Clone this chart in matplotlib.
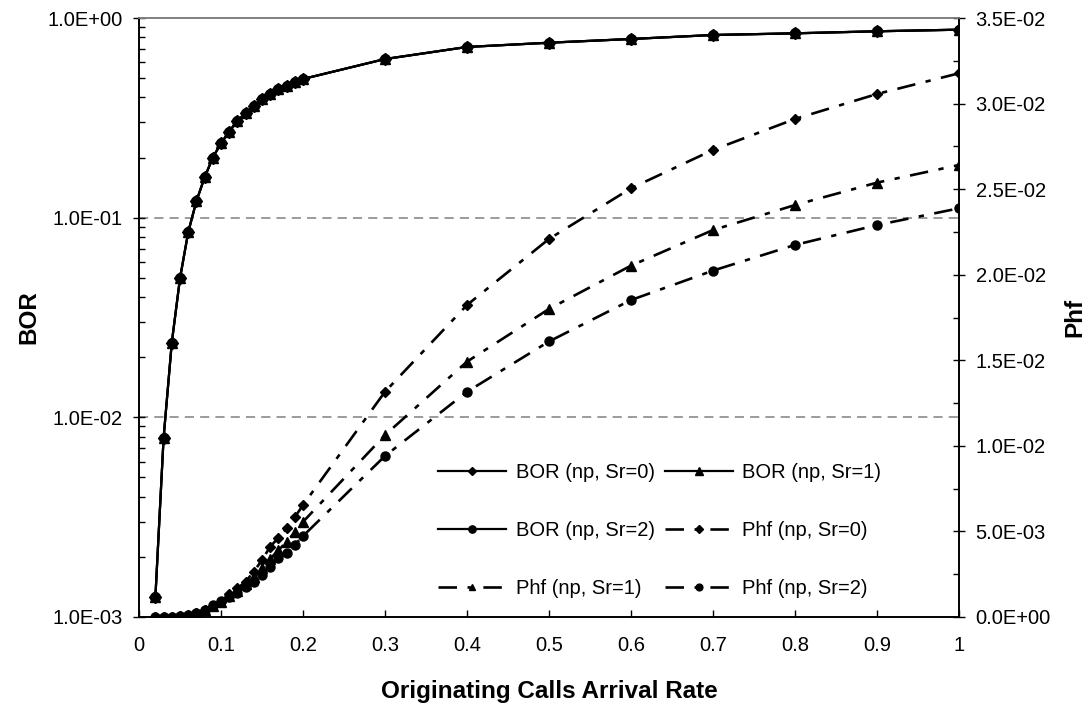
import matplotlib
matplotlib.use("Agg")
import matplotlib.pyplot as plt
from matplotlib.ticker import FixedLocator, FixedFormatter, NullFormatter

plt.rcParams['font.family'] = ['Liberation Sans', 'DejaVu Sans']

# ---------------- data ----------------
x = [0.02, 0.03, 0.04, 0.05, 0.06, 0.07, 0.08, 0.09, 0.10, 0.11, 0.12, 0.13,
     0.14, 0.15, 0.16, 0.17, 0.18, 0.19, 0.20, 0.3, 0.4, 0.5, 0.6, 0.7, 0.8,
     0.9, 1.0]

bor_sr0 = [0.00126, 0.0079, 0.0237, 0.0497, 0.0845, 0.121, 0.159, 0.200, 0.236,
           0.270, 0.306, 0.333, 0.362, 0.393, 0.416, 0.440, 0.458, 0.478, 0.495,
           0.623, 0.716, 0.752, 0.785, 0.822, 0.838, 0.858, 0.874]
bor_sr1 = [0.00126, 0.0079, 0.0237, 0.0497, 0.0845, 0.121, 0.159, 0.200, 0.236,
           0.270, 0.306, 0.333, 0.362, 0.393, 0.416, 0.440, 0.458, 0.478, 0.495,
           0.623, 0.716, 0.752, 0.785, 0.822, 0.838, 0.858, 0.874]
bor_sr2 = [0.00126, 0.0079, 0.0237, 0.0497, 0.0845, 0.121, 0.159, 0.200, 0.236,
           0.270, 0.306, 0.333, 0.362, 0.393, 0.416, 0.440, 0.458, 0.478, 0.495,
           0.623, 0.716, 0.752, 0.785, 0.822, 0.838, 0.858, 0.874]

phf_sr0 = [0.0, 0.0, 0.00002, 0.00005, 0.0001, 0.00022, 0.00041, 0.00064, 0.00089,
           0.00134, 0.00168, 0.00206, 0.00265, 0.00333, 0.00411, 0.00463, 0.00518,
           0.00583, 0.00654, 0.01316, 0.01823, 0.02209, 0.02505, 0.02729, 0.0291,
           0.03056, 0.03177]
phf_sr1 = [0.0, 0.0, 0.00002, 0.00005, 0.0001, 0.00022, 0.00041, 0.00066, 0.0009,
           0.00125, 0.00152, 0.0019, 0.00235, 0.00285, 0.0034, 0.0039, 0.0044,
           0.00495, 0.00556, 0.01063, 0.01492, 0.0180, 0.02053, 0.02261, 0.02407,
           0.02538, 0.02641]
phf_sr2 = [0.0, 0.0, 0.00002, 0.00005, 0.0001, 0.00022, 0.00041, 0.0007, 0.00093,
           0.00119, 0.00138, 0.00177, 0.00206, 0.00245, 0.00294, 0.00342, 0.00372,
           0.00421, 0.00473, 0.00941, 0.01316, 0.0161, 0.01852, 0.02024, 0.02174,
           0.0229, 0.02388]

x_ticks = [0, 0.1, 0.2, 0.3, 0.4, 0.5, 0.6, 0.7, 0.8, 0.9, 1.0]
x_labels = ['0', '0.1', '0.2', '0.3', '0.4', '0.5', '0.6', '0.7', '0.8', '0.9', '1']
left_ticks = [1e-3, 1e-2, 1e-1, 1.0]
left_labels = ['1.0E-03', '1.0E-02', '1.0E-01', '1.0E+00']
right_ticks = [0.0, 0.005, 0.01, 0.015, 0.02, 0.025, 0.03, 0.035]
right_labels = ['0.0E+00', '5.0E-03', '1.0E-02', '1.5E-02', '2.0E-02',
                '2.5E-02', '3.0E-02', '3.5E-02']

# ---------------- figure ----------------
fig = plt.figure(figsize=(10.9, 7.11), dpi=100)
ax = fig.add_axes([139/1090, 1-617/711, (959-139)/1090, (617-18)/711])
ax2 = ax.twinx()

solid_kw = dict(color='black', lw=1.6, markersize=7, markeredgecolor='black',
                markerfacecolor='black')
dd = (0, (7, 4, 2, 4))
dash_kw = dict(color='black', lw=1.9, linestyle=dd, markersize=6.5,
               markeredgecolor='black', markerfacecolor='black')

h1, = ax.plot(x, bor_sr0, marker='D', **{**solid_kw, 'markersize': 6}, label='BOR (np, Sr=0)')
h2, = ax.plot(x, bor_sr1, marker='^', **solid_kw, label='BOR (np, Sr=1)')
h3, = ax.plot(x, bor_sr2, marker='o', **solid_kw, label='BOR (np, Sr=2)')

h4, = ax2.plot(x, phf_sr0, marker='D', **{**dash_kw, 'markersize': 5.5}, label='Phf (np, Sr=0)')
h5, = ax2.plot(x, phf_sr1, marker='^', **dash_kw, label='Phf (np, Sr=1)')
h6, = ax2.plot(x, phf_sr2, marker='o', **dash_kw, label='Phf (np, Sr=2)')

ax.set_yscale('log')
ax.set_ylim(1e-3, 1.0)
ax.set_xlim(0, 1)
ax2.set_ylim(0, 0.035)

# gridlines
for g in [1e-1, 1e-2]:
    ax.axhline(g, color='#808080', lw=1.1, linestyle=(0, (6, 4)), zorder=0.5)

ax.xaxis.set_major_locator(FixedLocator(x_ticks))
ax.xaxis.set_major_formatter(FixedFormatter(x_labels))
ax.yaxis.set_major_locator(FixedLocator(left_ticks))
ax.yaxis.set_major_formatter(FixedFormatter(left_labels))
ax.yaxis.set_minor_formatter(NullFormatter())
ax2.yaxis.set_major_locator(FixedLocator(right_ticks))
ax2.yaxis.set_major_formatter(FixedFormatter(right_labels))
ax2.yaxis.set_minor_locator(FixedLocator([0.0025 + 0.005 * i for i in range(7)]))

fs = 14.5
ax.tick_params(axis='x', which='major', direction='in', length=5, width=1,
               labelsize=fs, pad=14, top=False)
ax.tick_params(axis='x', which='minor', bottom=False, top=False)
ax.tick_params(axis='y', which='major', direction='inout', length=8, width=1,
               labelsize=fs, pad=8, right=False)
ax.tick_params(axis='y', which='minor', direction='in', length=4, width=1, right=False)
ax2.tick_params(axis='y', which='major', direction='inout', length=8, width=1,
                labelsize=fs, pad=8)
ax2.tick_params(axis='y', which='minor', direction='in', length=4, width=1)

for a in (ax, ax2):
    a.spines['top'].set_color('#808080')
    a.spines['left'].set_color('black')
    a.spines['right'].set_color('black')
    a.spines['bottom'].set_color('black')
    for s in a.spines.values():
        s.set_linewidth(1.2)

ax.set_xlabel('Originating Calls Arrival Rate', fontsize=17.5, fontweight='bold', labelpad=18)
ax.set_ylabel('BOR', fontsize=17.5, fontweight='bold', labelpad=5)
ax2.set_ylabel('Phf', fontsize=17.5, fontweight='bold', labelpad=9)

handles = [h1, h3, h5, h2, h4, h6]
labels = [h.get_label() for h in handles]
leg = ax2.legend(handles, labels, ncol=2, loc='upper left',
                 bbox_to_anchor=(438/1090, 1-463/711), bbox_transform=fig.transFigure,
                 frameon=False, fontsize=fs, handlelength=3.4, handletextpad=0.45,
                 columnspacing=0.5, labelspacing=1.93, borderpad=0, borderaxespad=0,
                 markerscale=0.75)

fig.savefig('out.png', dpi=100)
